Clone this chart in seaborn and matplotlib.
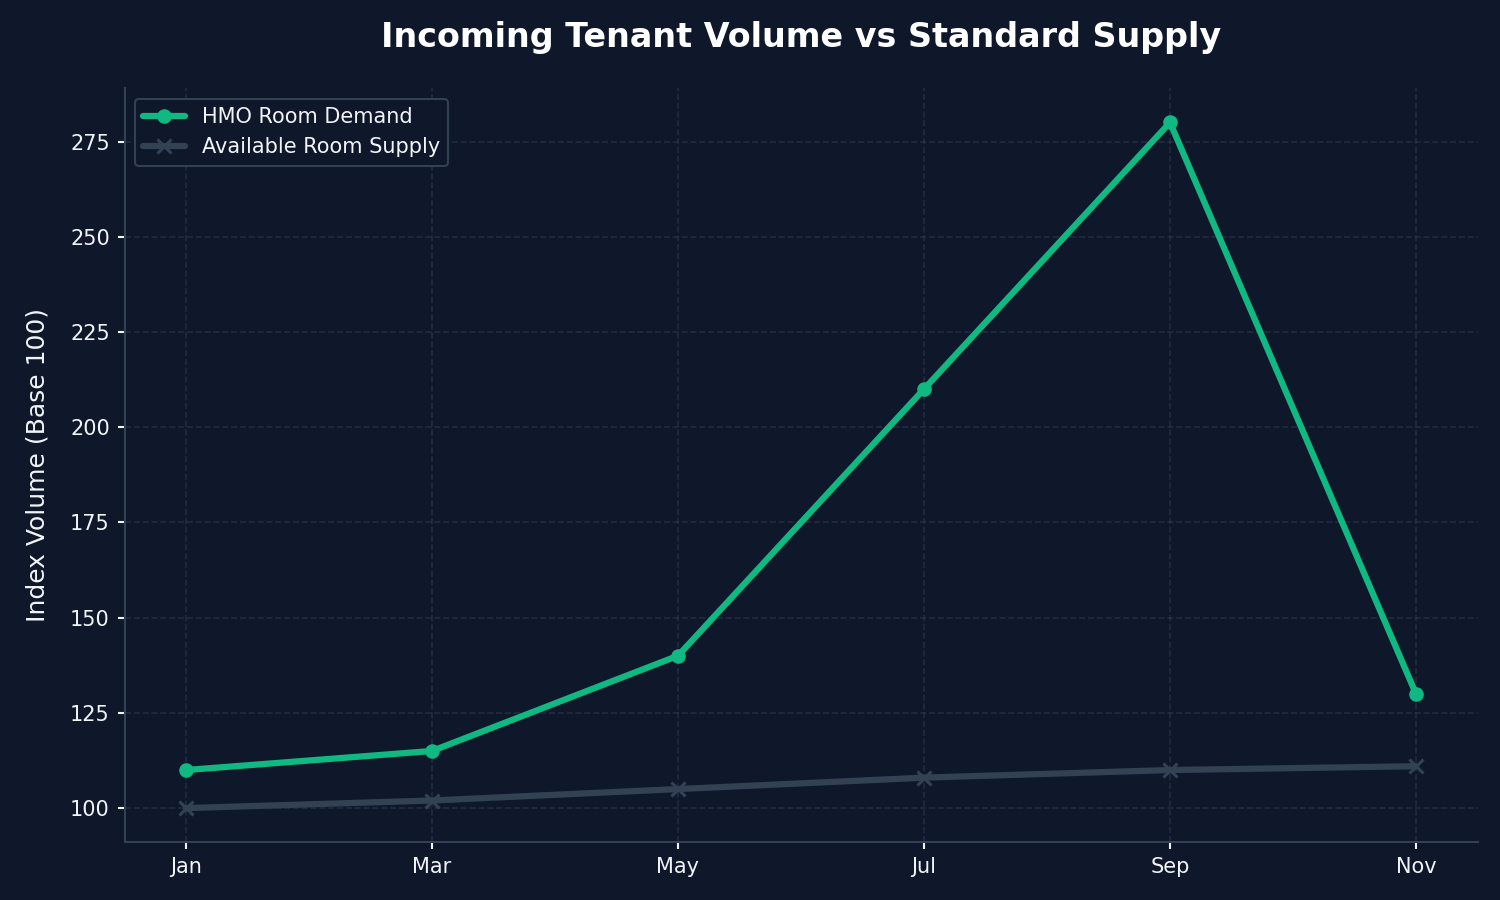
import pandas as pd
import seaborn as sns
import matplotlib.pyplot as plt

months = ['Jan', 'Mar', 'May', 'Jul', 'Sep', 'Nov']
demand = [110, 115, 140, 210, 280, 130]
supply = [100, 102, 105, 108, 110, 111]

bg = '#0f172a'
text_col = '#f1f5f9'
grid_col = '#334155'

sns.set_theme(style='dark', rc={
    'axes.facecolor': bg,
    'figure.facecolor': bg,
    'axes.edgecolor': grid_col,
    'text.color': text_col,
    'axes.labelcolor': text_col,
    'xtick.color': text_col,
    'ytick.color': text_col,
})
plt.rcParams['font.family'] = ['DejaVu Sans']

df = pd.DataFrame({'month': months, 'demand': demand, 'supply': supply})

fig = plt.figure(figsize=(10, 6), dpi=150)
ax = fig.add_subplot()
sns.lineplot(data=df, x='month', y='demand', ax=ax, color='#10b981', linewidth=3,
             marker='o', markersize=7, markeredgewidth=0, label='HMO Room Demand', sort=False)
sns.lineplot(data=df, x='month', y='supply', ax=ax, color='#334155', linewidth=3,
             marker='x', markersize=7, markeredgewidth=1.5, markeredgecolor='#334155',
             label='Available Room Supply', sort=False)

ax.set_title('Incoming Tenant Volume vs Standard Supply', fontsize=16, fontweight='bold',
             color='white', pad=20)
ax.set_ylabel('Index Volume (Base 100)', fontsize=12, labelpad=10)
ax.set_xlabel('')
ax.tick_params(axis='both', labelsize=10, length=3.5, width=1, colors=text_col, bottom=True, left=True)
ax.grid(True, linestyle='--', color=grid_col, alpha=0.5, linewidth=0.8)
for s in ['top', 'right']:
    ax.spines[s].set_visible(False)
for s in ['left', 'bottom']:
    ax.spines[s].set_color(grid_col)
    ax.spines[s].set_linewidth(1)

leg = ax.legend(loc='upper left', fontsize=10, facecolor=bg, edgecolor=grid_col, framealpha=1)
for t in leg.get_texts():
    t.set_color(text_col)

fig.subplots_adjust(left=0.083, right=0.985, top=0.902, bottom=0.064)
plt.savefig('out.png', facecolor=bg)
